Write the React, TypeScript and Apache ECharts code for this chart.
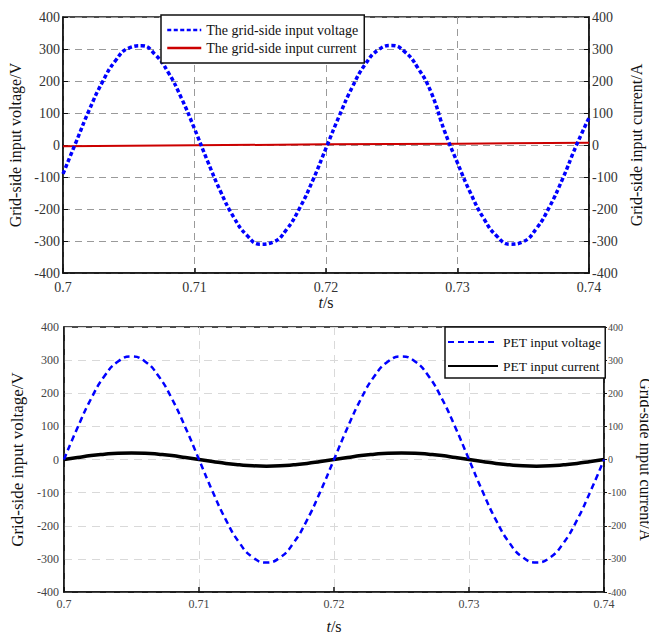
import React, { useEffect, useRef } from "react";
import * as echarts from "echarts";

const times = [
  0.700, 0.701, 0.702, 0.703, 0.704, 0.705, 0.706, 0.707, 0.708, 0.709,
  0.710, 0.711, 0.712, 0.713, 0.714, 0.715, 0.716, 0.717, 0.718, 0.719,
  0.720, 0.721, 0.722, 0.723, 0.724, 0.725, 0.726, 0.727, 0.728, 0.729,
  0.730, 0.731, 0.732, 0.733, 0.734, 0.735, 0.736, 0.737, 0.738, 0.739,
  0.740,
];
const topVoltage = [
  -90, 10, 110, 197, 264, 303, 310, 283, 227, 147,
  51, -51, -147, -227, -283, -310, -303, -264, -197, -110,
  -10, 90, 181, 253, 298, 311, 291, 240, 164, 45,
  -56, -151, -230, -285, -310, -302, -261, -193, -105, -5,
  85,
];
const topCurrentTimes = [0.70, 0.71, 0.72, 0.73, 0.74];
const topCurrent = [-4, -1, 2, 4, 7];
const bottomVoltage = [
  0, 96, 183, 252, 296, 311, 296, 252, 183, 96,
  0, -96, -183, -252, -296, -311, -296, -252, -183, -96,
  0, 96, 183, 252, 296, 311, 296, 252, 183, 96,
  0, -96, -183, -252, -296, -311, -296, -252, -183, -96,
  0,
];
const bottomCurrent = [
  0, 6, 12, 16, 19, 20, 19, 16, 12, 6,
  0, -6, -12, -16, -19, -20, -19, -16, -12, -6,
  0, 6, 12, 16, 19, 20, 19, 16, 12, 6,
  0, -6, -12, -16, -19, -20, -19, -16, -12, -6,
  0,
];
const topNames = ["The grid-side input voltage", "The grid-side input current"];
const bottomNames = ["PET input voltage", "PET input current"];

const FONT = "Liberation Serif";

function pairs(xs: number[], ys: number[]) {
  return xs.map((x, i) => [x, ys[i]]);
}

export default function App() {
  const ref = useRef<HTMLDivElement>(null);
  useEffect(() => {
    if (!ref.current) return;
    const chart = echarts.init(ref.current, undefined, { renderer: "svg" });
    const xFmt = (v: number) => String(+v.toFixed(2));
    const tName = "{i|t}/s";
    const mkX = (gi: number, top: boolean) => ({
      type: "value",
      gridIndex: gi,
      min: 0.7,
      max: 0.74,
      interval: 0.01,
      name: tName,
      nameLocation: "middle",
      nameGap: top ? 17 : 26,
      nameTextStyle: {
        fontFamily: FONT,
        fontSize: 16,
        color: "#111",
        rich: { i: { fontStyle: "italic", fontFamily: FONT, fontSize: 16, color: "#111" } },
      },
      axisLine: { show: true, onZero: false, lineStyle: { color: "#111", width: 1.5 } },
      axisTick: { show: true, inside: true, length: 5, lineStyle: { color: "#111", width: 1.5 } },
      axisLabel: {
        formatter: xFmt,
        fontFamily: FONT,
        fontSize: top ? 14 : 12,
        color: top ? "#333" : "#444",
        margin: top ? 7 : 6,
      },
      splitLine: {
        show: true,
        lineStyle: top
          ? { color: "#9a9a9a", type: [7, 5], width: 1 }
          : { color: "#d9d9d9", type: [8, 6], width: 1 },
      },
    });
    const option: any = {
      animation: false,
      backgroundColor: "#fff",
      textStyle: { fontFamily: FONT },
      grid: [
        { left: 63, top: 17, right: 60, height: 256, show: true, borderColor: "#111", borderWidth: 1.5, backgroundColor: "transparent", outerBoundsMode: "none", containLabel: false },
        { left: 64, top: 327, right: 45, height: 265, show: true, borderColor: "#111", borderWidth: 1.5, backgroundColor: "transparent", outerBoundsMode: "none", containLabel: false },
      ],
      xAxis: [mkX(0, true), mkX(1, false)],
      yAxis: [
        {
          type: "value", gridIndex: 0, position: "left", min: -400, max: 400, interval: 100,
          name: "Grid-side input voltage/V", nameLocation: "middle", nameRotate: 90, nameGap: 27,
          nameTextStyle: { fontFamily: FONT, fontSize: 16, color: "#111" },
          axisLine: { show: true, lineStyle: { color: "#111", width: 1.5 } },
          axisTick: { show: true, inside: true, length: 5, lineStyle: { color: "#111" } },
          axisLabel: { fontFamily: FONT, fontSize: 14, color: "#333", margin: 3 },
          splitLine: { show: true, lineStyle: { color: "#9a9a9a", type: [7, 5], width: 1 } },
        },
        {
          type: "value", gridIndex: 0, position: "right", min: -400, max: 400, interval: 100,
          name: "Grid-side input current/A", nameLocation: "middle", nameRotate: 90, nameGap: 26,
          nameTextStyle: { fontFamily: FONT, fontSize: 16, color: "#111" },
          axisLine: { show: true, lineStyle: { color: "#111", width: 1.5 } },
          axisTick: { show: true, inside: true, length: 5, lineStyle: { color: "#111" } },
          axisLabel: { fontFamily: FONT, fontSize: 14, color: "#333", margin: 3 },
          splitLine: { show: false },
        },
        {
          type: "value", gridIndex: 1, position: "left", min: -400, max: 400, interval: 100,
          name: "Grid-side input voltage/V", nameLocation: "middle", nameRotate: 90, nameGap: 25,
          nameTextStyle: { fontFamily: FONT, fontSize: 17, color: "#111" },
          axisLine: { show: true, lineStyle: { color: "#111", width: 1.5 } },
          axisTick: { show: false },
          axisLabel: { fontFamily: FONT, fontSize: 12, color: "#444", margin: 5 },
          splitLine: { show: true, lineStyle: { color: "#d9d9d9", type: [8, 6], width: 1 } },
        },
        {
          type: "value", gridIndex: 1, position: "right", min: -400, max: 400, interval: 100,
          name: "Grid-side input current/A", nameLocation: "middle", nameRotate: -90, nameGap: 17,
          nameTextStyle: { fontFamily: FONT, fontSize: 16, color: "#111" },
          axisLine: { show: true, lineStyle: { color: "#111", width: 1.5 } },
          axisTick: { show: true, inside: false, length: 3, lineStyle: { color: "#111" } },
          axisLabel: { fontFamily: FONT, fontSize: 10, color: "#444", margin: 4 },
          splitLine: { show: false },
        },
      ],
      legend: [
        {
          data: topNames,
          orient: "vertical",
          left: 161,
          top: 15,
          padding: [8, 6, 8, 5],
          itemGap: 4,
          itemWidth: 34,
          itemHeight: 14,
          borderColor: "#111",
          borderWidth: 1.5,
          borderRadius: 0,
          backgroundColor: "#fff",
          itemStyle: { opacity: 0 },
          lineStyle: { width: 2.5 },
          textStyle: { fontFamily: FONT, fontSize: 14, color: "#111" },
        },
        {
          data: bottomNames,
          orient: "vertical",
          left: 445,
          top: 327,
          padding: [8, 4, 5, 2],
          itemGap: 10,
          itemWidth: 50,
          itemHeight: 14,
          borderColor: "#111",
          borderWidth: 1.5,
          borderRadius: 0,
          backgroundColor: "#fff",
          itemStyle: { opacity: 0 },
          lineStyle: { width: 2 },
          textStyle: { fontFamily: FONT, fontSize: 13.5, color: "#111" },
        },
      ],
      series: [
        {
          name: topNames[1], type: "line", xAxisIndex: 0, yAxisIndex: 1,
          data: pairs(topCurrentTimes, topCurrent), showSymbol: false, symbol: "none",
          lineStyle: { color: "#cc0000", width: 2 }, itemStyle: { color: "#cc0000" },
        },
        {
          name: topNames[0], type: "line", xAxisIndex: 0, yAxisIndex: 0,
          data: pairs(times, topVoltage), smooth: true, showSymbol: false, symbol: "none",
          lineStyle: { color: "#0000ff", width: 3.5, type: [4, 2.5] }, itemStyle: { color: "#0000ff" },
        },
        {
          name: bottomNames[1], type: "line", xAxisIndex: 1, yAxisIndex: 3,
          data: pairs(times, bottomCurrent), smooth: true, showSymbol: false, symbol: "none",
          lineStyle: { color: "#000", width: 3.5 }, itemStyle: { color: "#000" },
        },
        {
          name: bottomNames[0], type: "line", xAxisIndex: 1, yAxisIndex: 2,
          data: pairs(times, bottomVoltage), smooth: true, showSymbol: false, symbol: "none",
          lineStyle: { color: "#0000ff", width: 2.5, type: [6, 4] }, itemStyle: { color: "#0000ff" },
        },
      ],
    };
    chart.setOption(option);
    return () => chart.dispose();
  }, []);
  return (
    <div
      ref={ref}
      style={{ position: "absolute", left: 0, top: 0, width: 649, height: 636 }}
    />
  );
}
